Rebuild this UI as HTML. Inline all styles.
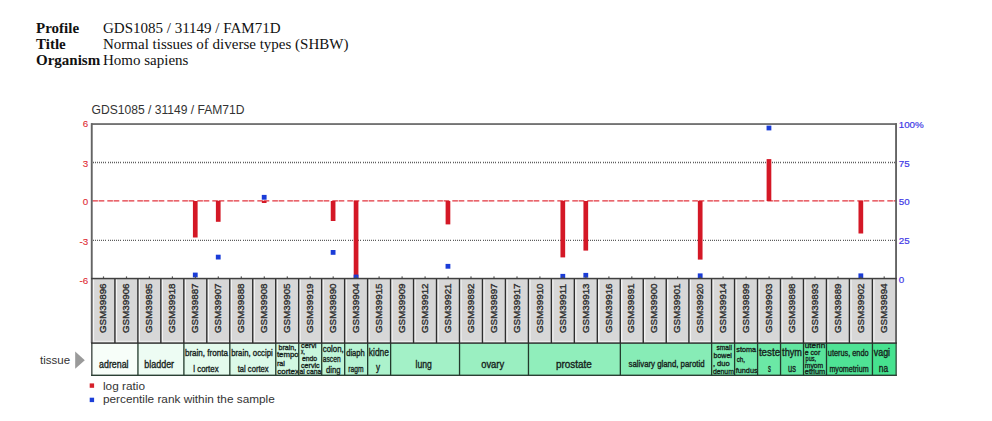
<!DOCTYPE html>
<html><head><meta charset="utf-8"><title>GDS1085 / 31149 / FAM71D</title>
<style>
html,body{margin:0;padding:0;background:#fff;}
body{width:992px;height:421px;overflow:hidden;position:relative;font-family:"Liberation Serif",serif;}
#hdr{position:absolute;left:36px;top:20px;border-collapse:collapse;font-family:"Liberation Serif",serif;font-size:15px;line-height:16.1px;color:#111;}
#hdr td{padding:0;white-space:nowrap;vertical-align:top;}
#hdr td.k{font-weight:bold;width:67px;}
svg{position:absolute;left:0;top:0;}
svg text{font-family:"Liberation Sans",sans-serif;}
</style></head><body>
<table id="hdr">
<tr><td class="k">Profile</td><td>GDS1085 / 31149 / FAM71D</td></tr>
<tr><td class="k">Title</td><td>Normal tissues of diverse types (SHBW)</td></tr>
<tr><td class="k">Organism</td><td>Homo sapiens</td></tr>
</table>
<svg width="992" height="421" viewBox="0 0 992 421">

<text x="91.5" y="114.3" font-size="12.1" fill="#333">GDS1085 / 31149 / FAM71D</text>
<line x1="93" y1="162.5" x2="895.0" y2="162.5" stroke="#5e5e5e" stroke-width="1.4" stroke-dasharray="1,1,1,1,1,1,1,1,1,1,1,1,1,2"/>
<line x1="93" y1="240.4" x2="895.0" y2="240.4" stroke="#5e5e5e" stroke-width="1.4" stroke-dasharray="1,1,1,1,1,1,1,1,1,1,1,1,1,2"/>
<line x1="92.3" y1="200.9" x2="896.0" y2="200.9" stroke="#e2343e" stroke-width="1.3" stroke-dasharray="5.6,0.7,5.7,3"/>
<rect x="192.92" y="201.0" width="4.7" height="36.5" fill="#d41826"/>
<rect x="215.89" y="201.0" width="4.7" height="20.8" fill="#d41826"/>
<rect x="261.84" y="201.0" width="4.7" height="2.0" fill="#d41826"/>
<rect x="330.75" y="201.0" width="4.7" height="20.0" fill="#d41826"/>
<rect x="353.72" y="201.0" width="4.7" height="77.5" fill="#d41826"/>
<rect x="445.61" y="201.0" width="4.7" height="23.4" fill="#d41826"/>
<rect x="560.46" y="201.0" width="4.7" height="56.4" fill="#d41826"/>
<rect x="583.44" y="201.0" width="4.7" height="49.6" fill="#d41826"/>
<rect x="697.84" y="201.0" width="4.7" height="58.6" fill="#d41826"/>
<rect x="766.61" y="159.1" width="4.7" height="41.9" fill="#d41826"/>
<rect x="858.49" y="201.0" width="4.7" height="32.5" fill="#d41826"/>
<rect x="192.87" y="272.6" width="4.8" height="4.8" fill="#1a3cd8"/>
<rect x="215.84" y="254.7" width="4.8" height="4.8" fill="#1a3cd8"/>
<rect x="261.79" y="194.9" width="4.8" height="4.8" fill="#1a3cd8"/>
<rect x="330.70" y="250.0" width="4.8" height="4.8" fill="#1a3cd8"/>
<rect x="353.67" y="274.6" width="4.8" height="4.8" fill="#1a3cd8"/>
<rect x="445.56" y="263.9" width="4.8" height="4.8" fill="#1a3cd8"/>
<rect x="560.41" y="273.9" width="4.8" height="4.8" fill="#1a3cd8"/>
<rect x="583.39" y="272.9" width="4.8" height="4.8" fill="#1a3cd8"/>
<rect x="697.79" y="273.4" width="4.8" height="4.8" fill="#1a3cd8"/>
<rect x="766.56" y="125.6" width="4.8" height="4.8" fill="#1a3cd8"/>
<rect x="858.44" y="273.4" width="4.8" height="4.8" fill="#1a3cd8"/>
<rect x="92.0" y="279.0" width="804.0" height="64.10000000000002" fill="#d7d7d7"/>
<rect x="92.6" y="279.0" width="1.5" height="64.10000000000002" fill="#f4f4f4"/>
<rect x="92.6" y="340.8" width="21.8" height="1.6" fill="#ececec"/>
<rect x="102.9" y="276.4" width="1.2" height="2" fill="#555"/>
<text transform="translate(106.1,333.0) rotate(-90)" font-size="9.8" fill="#2c2c2c" stroke="#2c2c2c" stroke-width="0.35">GSM39896</text>
<rect x="115.6" y="279.0" width="1.5" height="64.10000000000002" fill="#f4f4f4"/>
<rect x="115.6" y="340.8" width="21.8" height="1.6" fill="#ececec"/>
<rect x="114.22" y="279.0" width="1.4" height="64.10000000000002" fill="#2e2e2e"/>
<rect x="125.9" y="276.4" width="1.2" height="2" fill="#555"/>
<text transform="translate(129.1,333.0) rotate(-90)" font-size="9.8" fill="#2c2c2c" stroke="#2c2c2c" stroke-width="0.35">GSM39906</text>
<rect x="138.5" y="279.0" width="1.5" height="64.10000000000002" fill="#f4f4f4"/>
<rect x="138.5" y="340.8" width="21.8" height="1.6" fill="#ececec"/>
<rect x="137.19" y="279.0" width="1.4" height="64.10000000000002" fill="#2e2e2e"/>
<rect x="148.8" y="276.4" width="1.2" height="2" fill="#555"/>
<text transform="translate(152.0,333.0) rotate(-90)" font-size="9.8" fill="#2c2c2c" stroke="#2c2c2c" stroke-width="0.35">GSM39895</text>
<rect x="161.5" y="279.0" width="1.5" height="64.10000000000002" fill="#f4f4f4"/>
<rect x="161.5" y="340.8" width="21.8" height="1.6" fill="#ececec"/>
<rect x="160.16" y="279.0" width="1.4" height="64.10000000000002" fill="#2e2e2e"/>
<rect x="171.8" y="276.4" width="1.2" height="2" fill="#555"/>
<text transform="translate(175.0,333.0) rotate(-90)" font-size="9.8" fill="#2c2c2c" stroke="#2c2c2c" stroke-width="0.35">GSM39918</text>
<rect x="184.5" y="279.0" width="1.5" height="64.10000000000002" fill="#f4f4f4"/>
<rect x="184.5" y="340.8" width="21.8" height="1.6" fill="#ececec"/>
<rect x="183.14" y="279.0" width="1.4" height="64.10000000000002" fill="#2e2e2e"/>
<rect x="194.8" y="276.4" width="1.2" height="2" fill="#555"/>
<text transform="translate(198.0,333.0) rotate(-90)" font-size="9.8" fill="#2c2c2c" stroke="#2c2c2c" stroke-width="0.35">GSM39887</text>
<rect x="207.5" y="279.0" width="1.5" height="64.10000000000002" fill="#f4f4f4"/>
<rect x="207.5" y="340.8" width="21.8" height="1.6" fill="#ececec"/>
<rect x="206.11" y="279.0" width="1.4" height="64.10000000000002" fill="#2e2e2e"/>
<rect x="217.7" y="276.4" width="1.2" height="2" fill="#555"/>
<text transform="translate(220.9,333.0) rotate(-90)" font-size="9.8" fill="#2c2c2c" stroke="#2c2c2c" stroke-width="0.35">GSM39907</text>
<rect x="230.4" y="279.0" width="1.5" height="64.10000000000002" fill="#f4f4f4"/>
<rect x="230.4" y="340.8" width="21.8" height="1.6" fill="#ececec"/>
<rect x="229.08" y="279.0" width="1.4" height="64.10000000000002" fill="#2e2e2e"/>
<rect x="240.7" y="276.4" width="1.2" height="2" fill="#555"/>
<text transform="translate(243.9,333.0) rotate(-90)" font-size="9.8" fill="#2c2c2c" stroke="#2c2c2c" stroke-width="0.35">GSM39888</text>
<rect x="253.4" y="279.0" width="1.5" height="64.10000000000002" fill="#f4f4f4"/>
<rect x="253.4" y="340.8" width="21.8" height="1.6" fill="#ececec"/>
<rect x="252.05" y="279.0" width="1.4" height="64.10000000000002" fill="#2e2e2e"/>
<rect x="263.7" y="276.4" width="1.2" height="2" fill="#555"/>
<text transform="translate(266.9,333.0) rotate(-90)" font-size="9.8" fill="#2c2c2c" stroke="#2c2c2c" stroke-width="0.35">GSM39908</text>
<rect x="276.4" y="279.0" width="1.5" height="64.10000000000002" fill="#f4f4f4"/>
<rect x="276.4" y="340.8" width="21.8" height="1.6" fill="#ececec"/>
<rect x="275.02" y="279.0" width="1.4" height="64.10000000000002" fill="#2e2e2e"/>
<rect x="286.7" y="276.4" width="1.2" height="2" fill="#555"/>
<text transform="translate(289.9,333.0) rotate(-90)" font-size="9.8" fill="#2c2c2c" stroke="#2c2c2c" stroke-width="0.35">GSM39905</text>
<rect x="299.3" y="279.0" width="1.5" height="64.10000000000002" fill="#f4f4f4"/>
<rect x="299.3" y="340.8" width="21.8" height="1.6" fill="#ececec"/>
<rect x="297.99" y="279.0" width="1.4" height="64.10000000000002" fill="#2e2e2e"/>
<rect x="309.6" y="276.4" width="1.2" height="2" fill="#555"/>
<text transform="translate(312.8,333.0) rotate(-90)" font-size="9.8" fill="#2c2c2c" stroke="#2c2c2c" stroke-width="0.35">GSM39919</text>
<rect x="322.3" y="279.0" width="1.5" height="64.10000000000002" fill="#f4f4f4"/>
<rect x="322.3" y="340.8" width="21.8" height="1.6" fill="#ececec"/>
<rect x="320.96" y="279.0" width="1.4" height="64.10000000000002" fill="#2e2e2e"/>
<rect x="332.6" y="276.4" width="1.2" height="2" fill="#555"/>
<text transform="translate(335.8,333.0) rotate(-90)" font-size="9.8" fill="#2c2c2c" stroke="#2c2c2c" stroke-width="0.35">GSM39890</text>
<rect x="345.3" y="279.0" width="1.5" height="64.10000000000002" fill="#f4f4f4"/>
<rect x="345.3" y="340.8" width="21.8" height="1.6" fill="#ececec"/>
<rect x="343.94" y="279.0" width="1.4" height="64.10000000000002" fill="#2e2e2e"/>
<rect x="355.6" y="276.4" width="1.2" height="2" fill="#555"/>
<text transform="translate(358.8,333.0) rotate(-90)" font-size="9.8" fill="#2c2c2c" stroke="#2c2c2c" stroke-width="0.35">GSM39904</text>
<rect x="368.3" y="279.0" width="1.5" height="64.10000000000002" fill="#f4f4f4"/>
<rect x="368.3" y="340.8" width="21.8" height="1.6" fill="#ececec"/>
<rect x="366.91" y="279.0" width="1.4" height="64.10000000000002" fill="#2e2e2e"/>
<rect x="378.5" y="276.4" width="1.2" height="2" fill="#555"/>
<text transform="translate(381.7,333.0) rotate(-90)" font-size="9.8" fill="#2c2c2c" stroke="#2c2c2c" stroke-width="0.35">GSM39915</text>
<rect x="391.2" y="279.0" width="1.5" height="64.10000000000002" fill="#f4f4f4"/>
<rect x="391.2" y="340.8" width="21.8" height="1.6" fill="#ececec"/>
<rect x="389.88" y="279.0" width="1.4" height="64.10000000000002" fill="#2e2e2e"/>
<rect x="401.5" y="276.4" width="1.2" height="2" fill="#555"/>
<text transform="translate(404.7,333.0) rotate(-90)" font-size="9.8" fill="#2c2c2c" stroke="#2c2c2c" stroke-width="0.35">GSM39909</text>
<rect x="414.2" y="279.0" width="1.5" height="64.10000000000002" fill="#f4f4f4"/>
<rect x="414.2" y="340.8" width="21.8" height="1.6" fill="#ececec"/>
<rect x="412.85" y="279.0" width="1.4" height="64.10000000000002" fill="#2e2e2e"/>
<rect x="424.5" y="276.4" width="1.2" height="2" fill="#555"/>
<text transform="translate(427.7,333.0) rotate(-90)" font-size="9.8" fill="#2c2c2c" stroke="#2c2c2c" stroke-width="0.35">GSM39912</text>
<rect x="437.2" y="279.0" width="1.5" height="64.10000000000002" fill="#f4f4f4"/>
<rect x="437.2" y="340.8" width="21.8" height="1.6" fill="#ececec"/>
<rect x="435.82" y="279.0" width="1.4" height="64.10000000000002" fill="#2e2e2e"/>
<rect x="447.5" y="276.4" width="1.2" height="2" fill="#555"/>
<text transform="translate(450.7,333.0) rotate(-90)" font-size="9.8" fill="#2c2c2c" stroke="#2c2c2c" stroke-width="0.35">GSM39921</text>
<rect x="460.1" y="279.0" width="1.5" height="64.10000000000002" fill="#f4f4f4"/>
<rect x="460.1" y="340.8" width="21.8" height="1.6" fill="#ececec"/>
<rect x="458.79" y="279.0" width="1.4" height="64.10000000000002" fill="#2e2e2e"/>
<rect x="470.4" y="276.4" width="1.2" height="2" fill="#555"/>
<text transform="translate(473.6,333.0) rotate(-90)" font-size="9.8" fill="#2c2c2c" stroke="#2c2c2c" stroke-width="0.35">GSM39892</text>
<rect x="483.1" y="279.0" width="1.5" height="64.10000000000002" fill="#f4f4f4"/>
<rect x="483.1" y="340.8" width="21.8" height="1.6" fill="#ececec"/>
<rect x="481.76" y="279.0" width="1.4" height="64.10000000000002" fill="#2e2e2e"/>
<rect x="493.4" y="276.4" width="1.2" height="2" fill="#555"/>
<text transform="translate(496.6,333.0) rotate(-90)" font-size="9.8" fill="#2c2c2c" stroke="#2c2c2c" stroke-width="0.35">GSM39897</text>
<rect x="506.1" y="279.0" width="1.5" height="64.10000000000002" fill="#f4f4f4"/>
<rect x="506.1" y="340.8" width="21.8" height="1.6" fill="#ececec"/>
<rect x="504.74" y="279.0" width="1.4" height="64.10000000000002" fill="#2e2e2e"/>
<rect x="516.4" y="276.4" width="1.2" height="2" fill="#555"/>
<text transform="translate(519.6,333.0) rotate(-90)" font-size="9.8" fill="#2c2c2c" stroke="#2c2c2c" stroke-width="0.35">GSM39917</text>
<rect x="529.1" y="279.0" width="1.5" height="64.10000000000002" fill="#f4f4f4"/>
<rect x="529.1" y="340.8" width="21.8" height="1.6" fill="#ececec"/>
<rect x="527.71" y="279.0" width="1.4" height="64.10000000000002" fill="#2e2e2e"/>
<rect x="539.3" y="276.4" width="1.2" height="2" fill="#555"/>
<text transform="translate(542.5,333.0) rotate(-90)" font-size="9.8" fill="#2c2c2c" stroke="#2c2c2c" stroke-width="0.35">GSM39910</text>
<rect x="552.0" y="279.0" width="1.5" height="64.10000000000002" fill="#f4f4f4"/>
<rect x="552.0" y="340.8" width="21.8" height="1.6" fill="#ececec"/>
<rect x="550.68" y="279.0" width="1.4" height="64.10000000000002" fill="#2e2e2e"/>
<rect x="562.3" y="276.4" width="1.2" height="2" fill="#555"/>
<text transform="translate(565.5,333.0) rotate(-90)" font-size="9.8" fill="#2c2c2c" stroke="#2c2c2c" stroke-width="0.35">GSM39911</text>
<rect x="575.0" y="279.0" width="1.5" height="64.10000000000002" fill="#f4f4f4"/>
<rect x="575.0" y="340.8" width="21.8" height="1.6" fill="#ececec"/>
<rect x="573.65" y="279.0" width="1.4" height="64.10000000000002" fill="#2e2e2e"/>
<rect x="585.3" y="276.4" width="1.2" height="2" fill="#555"/>
<text transform="translate(588.5,333.0) rotate(-90)" font-size="9.8" fill="#2c2c2c" stroke="#2c2c2c" stroke-width="0.35">GSM39913</text>
<rect x="598.0" y="279.0" width="1.5" height="64.10000000000002" fill="#f4f4f4"/>
<rect x="598.0" y="340.8" width="21.8" height="1.6" fill="#ececec"/>
<rect x="596.62" y="279.0" width="1.4" height="64.10000000000002" fill="#2e2e2e"/>
<rect x="608.3" y="276.4" width="1.2" height="2" fill="#555"/>
<text transform="translate(611.5,333.0) rotate(-90)" font-size="9.8" fill="#2c2c2c" stroke="#2c2c2c" stroke-width="0.35">GSM39916</text>
<rect x="620.9" y="279.0" width="1.5" height="64.10000000000002" fill="#f4f4f4"/>
<rect x="620.9" y="340.8" width="21.8" height="1.6" fill="#ececec"/>
<rect x="619.59" y="279.0" width="1.4" height="64.10000000000002" fill="#2e2e2e"/>
<rect x="631.2" y="276.4" width="1.2" height="2" fill="#555"/>
<text transform="translate(634.4,333.0) rotate(-90)" font-size="9.8" fill="#2c2c2c" stroke="#2c2c2c" stroke-width="0.35">GSM39891</text>
<rect x="643.9" y="279.0" width="1.5" height="64.10000000000002" fill="#f4f4f4"/>
<rect x="643.9" y="340.8" width="21.8" height="1.6" fill="#ececec"/>
<rect x="642.56" y="279.0" width="1.4" height="64.10000000000002" fill="#2e2e2e"/>
<rect x="654.2" y="276.4" width="1.2" height="2" fill="#555"/>
<text transform="translate(657.4,333.0) rotate(-90)" font-size="9.8" fill="#2c2c2c" stroke="#2c2c2c" stroke-width="0.35">GSM39900</text>
<rect x="666.9" y="279.0" width="1.5" height="64.10000000000002" fill="#f4f4f4"/>
<rect x="666.9" y="340.8" width="21.5" height="1.6" fill="#ececec"/>
<rect x="665.54" y="279.0" width="1.4" height="64.10000000000002" fill="#2e2e2e"/>
<rect x="677.0" y="276.4" width="1.2" height="2" fill="#555"/>
<text transform="translate(680.2,333.0) rotate(-90)" font-size="9.8" fill="#2c2c2c" stroke="#2c2c2c" stroke-width="0.35">GSM39901</text>
<rect x="689.6" y="279.0" width="1.5" height="64.10000000000002" fill="#f4f4f4"/>
<rect x="689.6" y="340.8" width="21.5" height="1.6" fill="#ececec"/>
<rect x="688.21" y="279.0" width="1.4" height="64.10000000000002" fill="#2e2e2e"/>
<rect x="699.7" y="276.4" width="1.2" height="2" fill="#555"/>
<text transform="translate(702.9,333.0) rotate(-90)" font-size="9.8" fill="#2c2c2c" stroke="#2c2c2c" stroke-width="0.35">GSM39920</text>
<rect x="712.2" y="279.0" width="1.5" height="64.10000000000002" fill="#f4f4f4"/>
<rect x="712.2" y="340.8" width="21.8" height="1.6" fill="#ececec"/>
<rect x="710.88" y="279.0" width="1.4" height="64.10000000000002" fill="#2e2e2e"/>
<rect x="722.5" y="276.4" width="1.2" height="2" fill="#555"/>
<text transform="translate(725.7,333.0) rotate(-90)" font-size="9.8" fill="#2c2c2c" stroke="#2c2c2c" stroke-width="0.35">GSM39914</text>
<rect x="735.2" y="279.0" width="1.5" height="64.10000000000002" fill="#f4f4f4"/>
<rect x="735.2" y="340.8" width="21.8" height="1.6" fill="#ececec"/>
<rect x="733.85" y="279.0" width="1.4" height="64.10000000000002" fill="#2e2e2e"/>
<rect x="745.5" y="276.4" width="1.2" height="2" fill="#555"/>
<text transform="translate(748.7,333.0) rotate(-90)" font-size="9.8" fill="#2c2c2c" stroke="#2c2c2c" stroke-width="0.35">GSM39899</text>
<rect x="758.2" y="279.0" width="1.5" height="64.10000000000002" fill="#f4f4f4"/>
<rect x="758.2" y="340.8" width="21.8" height="1.6" fill="#ececec"/>
<rect x="756.82" y="279.0" width="1.4" height="64.10000000000002" fill="#2e2e2e"/>
<rect x="768.5" y="276.4" width="1.2" height="2" fill="#555"/>
<text transform="translate(771.7,333.0) rotate(-90)" font-size="9.8" fill="#2c2c2c" stroke="#2c2c2c" stroke-width="0.35">GSM39903</text>
<rect x="781.1" y="279.0" width="1.5" height="64.10000000000002" fill="#f4f4f4"/>
<rect x="781.1" y="340.8" width="21.8" height="1.6" fill="#ececec"/>
<rect x="779.79" y="279.0" width="1.4" height="64.10000000000002" fill="#2e2e2e"/>
<rect x="791.4" y="276.4" width="1.2" height="2" fill="#555"/>
<text transform="translate(794.6,333.0) rotate(-90)" font-size="9.8" fill="#2c2c2c" stroke="#2c2c2c" stroke-width="0.35">GSM39898</text>
<rect x="804.1" y="279.0" width="1.5" height="64.10000000000002" fill="#f4f4f4"/>
<rect x="804.1" y="340.8" width="21.8" height="1.6" fill="#ececec"/>
<rect x="802.76" y="279.0" width="1.4" height="64.10000000000002" fill="#2e2e2e"/>
<rect x="814.4" y="276.4" width="1.2" height="2" fill="#555"/>
<text transform="translate(817.6,333.0) rotate(-90)" font-size="9.8" fill="#2c2c2c" stroke="#2c2c2c" stroke-width="0.35">GSM39893</text>
<rect x="827.1" y="279.0" width="1.5" height="64.10000000000002" fill="#f4f4f4"/>
<rect x="827.1" y="340.8" width="21.8" height="1.6" fill="#ececec"/>
<rect x="825.74" y="279.0" width="1.4" height="64.10000000000002" fill="#2e2e2e"/>
<rect x="837.4" y="276.4" width="1.2" height="2" fill="#555"/>
<text transform="translate(840.6,333.0) rotate(-90)" font-size="9.8" fill="#2c2c2c" stroke="#2c2c2c" stroke-width="0.35">GSM39889</text>
<rect x="850.1" y="279.0" width="1.5" height="64.10000000000002" fill="#f4f4f4"/>
<rect x="850.1" y="340.8" width="21.8" height="1.6" fill="#ececec"/>
<rect x="848.71" y="279.0" width="1.4" height="64.10000000000002" fill="#2e2e2e"/>
<rect x="860.3" y="276.4" width="1.2" height="2" fill="#555"/>
<text transform="translate(863.5,333.0) rotate(-90)" font-size="9.8" fill="#2c2c2c" stroke="#2c2c2c" stroke-width="0.35">GSM39902</text>
<rect x="873.0" y="279.0" width="1.5" height="64.10000000000002" fill="#f4f4f4"/>
<rect x="873.0" y="340.8" width="22.4" height="1.6" fill="#ececec"/>
<rect x="871.68" y="279.0" width="1.4" height="64.10000000000002" fill="#2e2e2e"/>
<rect x="883.6" y="276.4" width="1.2" height="2" fill="#555"/>
<text transform="translate(886.8,333.0) rotate(-90)" font-size="9.8" fill="#2c2c2c" stroke="#2c2c2c" stroke-width="0.35">GSM39894</text>
<clipPath id="c0"><rect x="92.0" y="343.1" width="45.9" height="32.19999999999999"/></clipPath>
<rect x="92.0" y="343.1" width="45.9" height="32.19999999999999" fill="#f7fef9"/>
<g clip-path="url(#c0)" font-size="10" fill="#16241c" stroke="#16241c" stroke-width="0.35">
<text x="99.1" y="367.8" textLength="29.4" lengthAdjust="spacingAndGlyphs">adrenal</text>
</g>
<clipPath id="c1"><rect x="137.9" y="343.1" width="45.9" height="32.19999999999999"/></clipPath>
<rect x="137.9" y="343.1" width="45.9" height="32.19999999999999" fill="#edfcf3"/>
<g clip-path="url(#c1)" font-size="10" fill="#16241c" stroke="#16241c" stroke-width="0.35">
<text x="144.3" y="367.8" textLength="29.8" lengthAdjust="spacingAndGlyphs">bladder</text>
</g>
<clipPath id="c2"><rect x="183.9" y="343.1" width="45.9" height="32.19999999999999"/></clipPath>
<rect x="183.9" y="343.1" width="45.9" height="32.19999999999999" fill="#e4fbed"/>
<g clip-path="url(#c2)" font-size="9" fill="#16241c" stroke="#16241c" stroke-width="0.35">
<text x="184.9" y="355.9" textLength="43.1" lengthAdjust="spacingAndGlyphs">brain, fronta</text>
<text x="193.3" y="371.9" textLength="25.3" lengthAdjust="spacingAndGlyphs">l cortex</text>
</g>
<clipPath id="c3"><rect x="229.8" y="343.1" width="45.9" height="32.19999999999999"/></clipPath>
<rect x="229.8" y="343.1" width="45.9" height="32.19999999999999" fill="#dbf9e8"/>
<g clip-path="url(#c3)" font-size="9" fill="#16241c" stroke="#16241c" stroke-width="0.35">
<text x="231.2" y="355.9" textLength="41.6" lengthAdjust="spacingAndGlyphs">brain, occipi</text>
<text x="237.7" y="371.9" textLength="30.9" lengthAdjust="spacingAndGlyphs">tal cortex</text>
</g>
<clipPath id="c4"><rect x="275.8" y="343.1" width="23.0" height="32.19999999999999"/></clipPath>
<rect x="275.8" y="343.1" width="23.0" height="32.19999999999999" fill="#d1f8e2"/>
<g clip-path="url(#c4)" font-size="8" fill="#16241c" stroke="#16241c" stroke-width="0.35">
<text x="278.5" y="349.5" textLength="17.7" lengthAdjust="spacingAndGlyphs">brain,</text>
<text x="276.9" y="357.4" textLength="21.7" lengthAdjust="spacingAndGlyphs">tempo</text>
<text x="276.9" y="365.6" textLength="8.0" lengthAdjust="spacingAndGlyphs">ral</text>
<text x="277.2" y="374.0" textLength="21.8" lengthAdjust="spacingAndGlyphs">cortex</text>
</g>
<clipPath id="c5"><rect x="298.7" y="343.1" width="23.0" height="32.19999999999999"/></clipPath>
<rect x="298.7" y="343.1" width="23.0" height="32.19999999999999" fill="#c8f6dd"/>
<g clip-path="url(#c5)" font-size="8" fill="#16241c" stroke="#16241c" stroke-width="0.35">
<text x="301.0" y="347.9" textLength="15.4" lengthAdjust="spacingAndGlyphs">cervi</text>
<text x="301.0" y="353.6" textLength="3.8" lengthAdjust="spacingAndGlyphs">x,</text>
<text x="301.9" y="361.3" textLength="15.3" lengthAdjust="spacingAndGlyphs">endo</text>
<text x="301.0" y="367.7" textLength="18.6" lengthAdjust="spacingAndGlyphs">cervic</text>
<text x="299.4" y="374.2" textLength="21.8" lengthAdjust="spacingAndGlyphs">al cana</text>
</g>
<clipPath id="c6"><rect x="321.7" y="343.1" width="23.0" height="32.19999999999999"/></clipPath>
<rect x="321.7" y="343.1" width="23.0" height="32.19999999999999" fill="#bff5d7"/>
<g clip-path="url(#c6)" font-size="9" fill="#16241c" stroke="#16241c" stroke-width="0.35">
<text x="322.8" y="351.7" textLength="21.0" lengthAdjust="spacingAndGlyphs">colon,</text>
<text x="322.8" y="361.8" textLength="17.8" lengthAdjust="spacingAndGlyphs">ascen</text>
<text x="326.0" y="372.5" textLength="14.6" lengthAdjust="spacingAndGlyphs">ding</text>
</g>
<clipPath id="c7"><rect x="344.7" y="343.1" width="23.0" height="32.19999999999999"/></clipPath>
<rect x="344.7" y="343.1" width="23.0" height="32.19999999999999" fill="#b6f3d2"/>
<g clip-path="url(#c7)" font-size="9" fill="#16241c" stroke="#16241c" stroke-width="0.35">
<text x="346.2" y="355.9" textLength="18.6" lengthAdjust="spacingAndGlyphs">diaph</text>
<text x="348.3" y="371.5" textLength="15.3" lengthAdjust="spacingAndGlyphs">ragm</text>
</g>
<clipPath id="c8"><rect x="367.7" y="343.1" width="23.0" height="32.19999999999999"/></clipPath>
<rect x="367.7" y="343.1" width="23.0" height="32.19999999999999" fill="#acf2cc"/>
<g clip-path="url(#c8)" font-size="10" fill="#16241c" stroke="#16241c" stroke-width="0.35">
<text x="368.8" y="355.9" textLength="20.2" lengthAdjust="spacingAndGlyphs">kidne</text>
<text x="376.0" y="371.0" textLength="4.1" lengthAdjust="spacingAndGlyphs">y</text>
</g>
<clipPath id="c9"><rect x="390.6" y="343.1" width="68.9" height="32.19999999999999"/></clipPath>
<rect x="390.6" y="343.1" width="68.9" height="32.19999999999999" fill="#a3f1c7"/>
<g clip-path="url(#c9)" font-size="10" fill="#16241c" stroke="#16241c" stroke-width="0.35">
<text x="415.6" y="367.8" textLength="16.3" lengthAdjust="spacingAndGlyphs">lung</text>
</g>
<clipPath id="c10"><rect x="459.5" y="343.1" width="68.9" height="32.19999999999999"/></clipPath>
<rect x="459.5" y="343.1" width="68.9" height="32.19999999999999" fill="#9aefc1"/>
<g clip-path="url(#c10)" font-size="10" fill="#16241c" stroke="#16241c" stroke-width="0.35">
<text x="481.2" y="367.8" textLength="23.0" lengthAdjust="spacingAndGlyphs">ovary</text>
</g>
<clipPath id="c11"><rect x="528.5" y="343.1" width="91.9" height="32.19999999999999"/></clipPath>
<rect x="528.5" y="343.1" width="91.9" height="32.19999999999999" fill="#90eebb"/>
<g clip-path="url(#c11)" font-size="10" fill="#16241c" stroke="#16241c" stroke-width="0.35">
<text x="555.9" y="367.8" textLength="35.9" lengthAdjust="spacingAndGlyphs">prostate</text>
</g>
<clipPath id="c12"><rect x="620.3" y="343.1" width="91.3" height="32.19999999999999"/></clipPath>
<rect x="620.3" y="343.1" width="91.3" height="32.19999999999999" fill="#87ecb6"/>
<g clip-path="url(#c12)" font-size="8.6" fill="#16241c" stroke="#16241c" stroke-width="0.35">
<text x="628.5" y="367.4" textLength="76.0" lengthAdjust="spacingAndGlyphs">salivary gland, parotid</text>
</g>
<clipPath id="c13"><rect x="711.6" y="343.1" width="23.0" height="32.19999999999999"/></clipPath>
<rect x="711.6" y="343.1" width="23.0" height="32.19999999999999" fill="#7eebb0"/>
<g clip-path="url(#c13)" font-size="8" fill="#16241c" stroke="#16241c" stroke-width="0.35">
<text x="716.4" y="350.1" textLength="15.5" lengthAdjust="spacingAndGlyphs">small</text>
<text x="713.5" y="358.2" textLength="18.4" lengthAdjust="spacingAndGlyphs">bowel</text>
<text x="712.9" y="366.3" textLength="16.9" lengthAdjust="spacingAndGlyphs">, duo</text>
<text x="712.9" y="373.9" textLength="21.0" lengthAdjust="spacingAndGlyphs">denum</text>
</g>
<clipPath id="c14"><rect x="734.6" y="343.1" width="23.0" height="32.19999999999999"/></clipPath>
<rect x="734.6" y="343.1" width="23.0" height="32.19999999999999" fill="#74e9ab"/>
<g clip-path="url(#c14)" font-size="8" fill="#16241c" stroke="#16241c" stroke-width="0.35">
<text x="736.3" y="352.1" textLength="19.8" lengthAdjust="spacingAndGlyphs">stoma</text>
<text x="736.7" y="362.2" textLength="8.3" lengthAdjust="spacingAndGlyphs">ch,</text>
<text x="735.7" y="373.3" textLength="21.9" lengthAdjust="spacingAndGlyphs">fundus</text>
</g>
<clipPath id="c15"><rect x="757.6" y="343.1" width="23.0" height="32.19999999999999"/></clipPath>
<rect x="757.6" y="343.1" width="23.0" height="32.19999999999999" fill="#6be8a5"/>
<g clip-path="url(#c15)" font-size="10" fill="#16241c" stroke="#16241c" stroke-width="0.35">
<text x="758.9" y="355.9" textLength="21.3" lengthAdjust="spacingAndGlyphs">teste</text>
<text x="767.9" y="371.9" textLength="2.9" lengthAdjust="spacingAndGlyphs">s</text>
</g>
<clipPath id="c16"><rect x="780.5" y="343.1" width="23.0" height="32.19999999999999"/></clipPath>
<rect x="780.5" y="343.1" width="23.0" height="32.19999999999999" fill="#62e6a0"/>
<g clip-path="url(#c16)" font-size="10" fill="#16241c" stroke="#16241c" stroke-width="0.35">
<text x="782.1" y="355.9" textLength="19.9" lengthAdjust="spacingAndGlyphs">thym</text>
<text x="788.1" y="371.9" textLength="7.9" lengthAdjust="spacingAndGlyphs">us</text>
</g>
<clipPath id="c17"><rect x="803.5" y="343.1" width="23.0" height="32.19999999999999"/></clipPath>
<rect x="803.5" y="343.1" width="23.0" height="32.19999999999999" fill="#59e59a"/>
<g clip-path="url(#c17)" font-size="8" fill="#16241c" stroke="#16241c" stroke-width="0.35">
<text x="804.8" y="348.0" textLength="20.4" lengthAdjust="spacingAndGlyphs">uterin</text>
<text x="804.8" y="354.6" textLength="15.4" lengthAdjust="spacingAndGlyphs">e cor</text>
<text x="805.6" y="361.2" textLength="10.4" lengthAdjust="spacingAndGlyphs">pus,</text>
<text x="804.8" y="367.7" textLength="18.4" lengthAdjust="spacingAndGlyphs">myom</text>
<text x="804.8" y="374.0" textLength="20.4" lengthAdjust="spacingAndGlyphs">etrium</text>
</g>
<clipPath id="c18"><rect x="826.5" y="343.1" width="45.9" height="32.19999999999999"/></clipPath>
<rect x="826.5" y="343.1" width="45.9" height="32.19999999999999" fill="#4fe395"/>
<g clip-path="url(#c18)" font-size="9" fill="#16241c" stroke="#16241c" stroke-width="0.35">
<text x="827.8" y="355.9" textLength="40.8" lengthAdjust="spacingAndGlyphs">uterus, endo</text>
<text x="829.4" y="371.9" textLength="39.2" lengthAdjust="spacingAndGlyphs">myometrium</text>
</g>
<clipPath id="c19"><rect x="872.4" y="343.1" width="23.6" height="32.19999999999999"/></clipPath>
<rect x="872.4" y="343.1" width="23.6" height="32.19999999999999" fill="#46e28f"/>
<g clip-path="url(#c19)" font-size="10" fill="#16241c" stroke="#16241c" stroke-width="0.35">
<text x="873.8" y="355.9" textLength="16.3" lengthAdjust="spacingAndGlyphs">vagi</text>
<text x="878.8" y="371.9" textLength="9.3" lengthAdjust="spacingAndGlyphs">na</text>
</g>
<rect x="137.29" y="343.1" width="1.3" height="32.19999999999999" fill="#223a2c"/>
<rect x="183.24" y="343.1" width="1.3" height="32.19999999999999" fill="#223a2c"/>
<rect x="229.18" y="343.1" width="1.3" height="32.19999999999999" fill="#223a2c"/>
<rect x="275.12" y="343.1" width="1.3" height="32.19999999999999" fill="#223a2c"/>
<rect x="298.09" y="343.1" width="1.3" height="32.19999999999999" fill="#223a2c"/>
<rect x="321.06" y="343.1" width="1.3" height="32.19999999999999" fill="#223a2c"/>
<rect x="344.04" y="343.1" width="1.3" height="32.19999999999999" fill="#223a2c"/>
<rect x="367.01" y="343.1" width="1.3" height="32.19999999999999" fill="#223a2c"/>
<rect x="389.98" y="343.1" width="1.3" height="32.19999999999999" fill="#223a2c"/>
<rect x="458.89" y="343.1" width="1.3" height="32.19999999999999" fill="#223a2c"/>
<rect x="527.81" y="343.1" width="1.3" height="32.19999999999999" fill="#223a2c"/>
<rect x="619.69" y="343.1" width="1.3" height="32.19999999999999" fill="#223a2c"/>
<rect x="710.98" y="343.1" width="1.3" height="32.19999999999999" fill="#223a2c"/>
<rect x="733.95" y="343.1" width="1.3" height="32.19999999999999" fill="#223a2c"/>
<rect x="756.92" y="343.1" width="1.3" height="32.19999999999999" fill="#223a2c"/>
<rect x="779.89" y="343.1" width="1.3" height="32.19999999999999" fill="#223a2c"/>
<rect x="802.86" y="343.1" width="1.3" height="32.19999999999999" fill="#223a2c"/>
<rect x="825.84" y="343.1" width="1.3" height="32.19999999999999" fill="#223a2c"/>
<rect x="871.78" y="343.1" width="1.3" height="32.19999999999999" fill="#223a2c"/>
<rect x="91.1" y="123.2" width="805.8" height="1.7" fill="#646464"/>
<rect x="90.8" y="123.2" width="1.9" height="219.90000000000003" fill="#646464"/>
<rect x="91.0" y="343.1" width="1.6" height="32.79999999999999" fill="#5a625e"/>
<rect x="895.1" y="123.2" width="1.9" height="219.90000000000003" fill="#646464"/>
<rect x="895.5" y="343.1" width="1.3" height="32.79999999999999" fill="#2a4a38"/>
<rect x="91.1" y="277.8" width="805.8" height="1.5" fill="#404040"/>
<rect x="91.1" y="342.40000000000003" width="805.8" height="1.4" fill="#2a2a2a"/>
<rect x="91.1" y="374.6" width="805.7" height="1.4" fill="#2a4034"/>
<text x="88.1" y="127.0" font-size="9.8" text-anchor="end" fill="#e02c34" stroke="#e02c34" stroke-width="0.1">6</text>
<text x="88.1" y="166.8" font-size="9.8" text-anchor="end" fill="#e02c34" stroke="#e02c34" stroke-width="0.1">3</text>
<text x="88.1" y="205.0" font-size="9.8" text-anchor="end" fill="#e02c34" stroke="#e02c34" stroke-width="0.1">0</text>
<text x="88.1" y="244.5" font-size="9.8" text-anchor="end" fill="#e02c34" stroke="#e02c34" stroke-width="0.1">-3</text>
<text x="88.1" y="283.7" font-size="9.8" text-anchor="end" fill="#e02c34" stroke="#e02c34" stroke-width="0.1">-6</text>
<text x="898.7" y="128.2" font-size="9.8" fill="#4038e6" stroke="#4038e6" stroke-width="0.2">100%</text>
<text x="898.7" y="166.8" font-size="9.8" fill="#4038e6" stroke="#4038e6" stroke-width="0.2">75</text>
<text x="898.7" y="204.9" font-size="9.8" fill="#4038e6" stroke="#4038e6" stroke-width="0.2">50</text>
<text x="898.7" y="244.2" font-size="9.8" fill="#4038e6" stroke="#4038e6" stroke-width="0.2">25</text>
<text x="898.7" y="283.4" font-size="9.8" fill="#4038e6" stroke="#4038e6" stroke-width="0.2">0</text>
<text x="40" y="364" font-size="11.5" fill="#333">tissue</text>
<polygon points="75.2,351.6 75.2,368.8 84.8,360.2" fill="#9a9a9a"/>
<rect x="89.7" y="383.4" width="4.4" height="4.4" fill="#d6202a"/>
<rect x="89.7" y="397.7" width="4.4" height="4.4" fill="#1c3fd8"/>
<text x="103" y="389.5" font-size="11.8" fill="#333">log ratio</text>
<text x="103" y="402.6" font-size="11.8" fill="#333">percentile rank within the sample</text>
</svg></body></html>
